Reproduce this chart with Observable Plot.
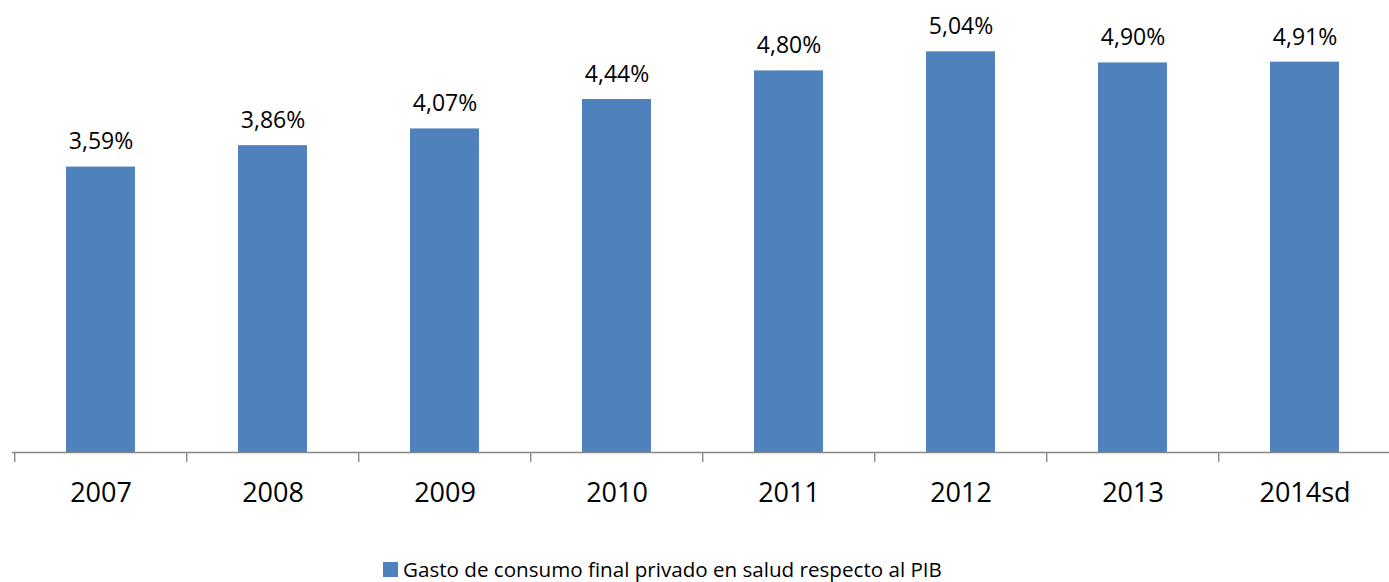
<!DOCTYPE html>
<html>
<head>
<meta charset="utf-8">
<script src="https://cdn.jsdelivr.net/npm/d3@7"></script>
<script src="https://cdn.jsdelivr.net/npm/@observablehq/plot@0.6"></script>
<style>
  html, body { margin: 0; padding: 0; background: #fff; }
  #wrap { position: relative; width: 1389px; height: 582px; font-family: "Open Sans", sans-serif; overflow: hidden; }
  #legend { position: absolute; left: 383px; top: 557px; display: flex; align-items: center; font-size: 20.6px; line-height: 24px; color: #000; white-space: nowrap; }
  #legend .sw { width: 15px; height: 15px; background: #4F81BD; margin-right: 5px; }
</style>
</head>
<body>
<div id="wrap">
  <div id="chart"></div>
  <div id="legend"><span class="sw"></span><span>Gasto de consumo final privado en salud respecto al PIB</span></div>
</div>
<script>
const years = ["2007", "2008", "2009", "2010", "2011", "2012", "2013", "2014sd"];
const values = [3.59, 3.86, 4.07, 4.44, 4.80, 5.04, 4.90, 4.91];
const valueLabels = ["3,59%", "3,86%", "4,07%", "4,44%", "4,80%", "5,04%", "4,90%", "4,91%"];

const data = years.map((y, i) => ({year: y, value: values[i], label: valueLabels[i]}));

const W = 1389, H = 550;
const x0 = 12.5, step = 172.5;
const base = 452, perUnit = 79.5;

const chart = Plot.plot({
  width: W,
  height: H,
  marginLeft: 12, marginRight: 0, marginTop: 0, marginBottom: 0,
  style: {fontFamily: "Open Sans, sans-serif", background: "#fff", overflow: "visible"},
  x: {domain: years, range: [x0, x0 + step * years.length], paddingInner: 0.6, paddingOuter: 0.3, align: 0.5, axis: null},
  y: {domain: [0, 5.6], range: [base, base - 5.6 * perUnit], axis: null},
  marks: [
    Plot.barY(data, {x: "year", y: "value", fill: "#4F81BD"}),
    Plot.ruleY([0], {stroke: "#868686", strokeWidth: 1.3}),
    Plot.ruleX(data, {x: "year", dx: -step / 2, y1: 0, y2: -10 / perUnit, stroke: "#868686", strokeWidth: 1.3}),
    Plot.text(data, {x: "year", y: "value", text: "label", dy: -25, fontSize: 23, fill: "#000"}),
    Plot.text(data, {x: "year", y: 0, text: "year", dy: 41, fontSize: 27, fill: "#000"})
  ]
});
document.getElementById("chart").appendChild(chart);
</script>
</body>
</html>
